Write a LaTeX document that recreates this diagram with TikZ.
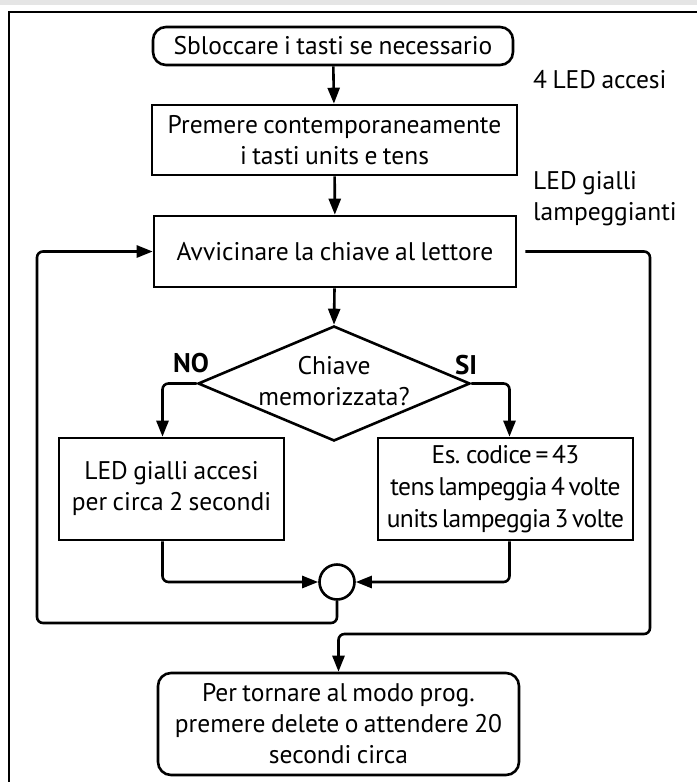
\documentclass[tikz,border=0pt]{standalone}
\usepackage{fontspec}
\setmainfont[WordSpace=0.8]{PT Sans}
\newfontfamily\tightfont[WordSpace=0.6,LetterSpace=-2.5]{PT Sans}
\usetikzlibrary{arrows.meta,shapes.geometric,calc}
\begin{document}
\begin{tikzpicture}[x=1pt,y=-1pt,
  font=\fontsize{25.5}{31}\selectfont,
  box/.style={draw, line width=2.6pt, inner sep=0pt, align=center},
  roundbox/.style={box, rounded corners=13pt},
  conn/.style={line width=2.6pt, rounded corners=6pt},
  arr/.style={conn, -{Triangle[length=16pt,width=12pt]}},
  note/.style={inner sep=0pt, anchor=west, align=left},
  tight/.style={font=\tightfont\fontsize{25.5}{32}\selectfont},
  branch/.style={inner sep=0pt, font=\fontsize{27}{31}\selectfont\bfseries}
]
\useasboundingbox (0,0) rectangle (697,782);
% page band and frame
\fill[black!10] (0,0) rectangle (697,5);
\draw[line width=2pt] (9,782) -- (9,12) -- (697,12);

% flow steps
\node[roundbox, minimum width=360pt, minimum height=38pt] (b1) at (333,46) {Sbloccare i tasti se necessario};
\node[box, minimum width=365pt, minimum height=70pt] (b2) at (334.5,140) {Premere contemporaneamente\\i tasti units e tens};
\node[box, minimum width=362pt, minimum height=71pt] (b3) at (335,251.5) {Avvicinare la chiave al lettore};
\node[draw, line width=2.6pt, diamond, inner sep=0pt, minimum width=272pt, minimum height=115pt] (d) at (334,383.5) {};
\node[inner sep=0pt, align=center] (dt) at (334,381.5) {Chiave\\memorizzata?};
\node[box, minimum width=225pt, minimum height=102pt] (lb) at (171.5,489) {LED gialli accesi\\per circa 2 secondi};
\node[box, tight, minimum width=255pt, minimum height=102pt] (rb) at (505.5,489) {Es. codice = 43\\tens lampeggia 4 volte\\units lampeggia 3 volte};
\node[draw, circle, line width=2.6pt, minimum size=35pt, inner sep=0pt] (c) at (337,582) {};
\node[roundbox, minimum width=361pt, minimum height=102pt] (bb) at (338.5,724) {Per tornare al modo prog.\\premere delete o attendere 20\\secondi circa};

% side notes
\node[note] (n1) at (533,80) {4 LED accesi};
\node[note] (n2) at (533,199) {LED gialli\\lampeggianti};

% branch labels
\node[branch] (no) at (191,363) {NO};
\node[branch] (si) at (466,365) {SI};

% helper corners
\coordinate (lp) at (37,623);
\coordinate (rp) at (650,634);

% connectors
\draw[arr] (b1) -- (b2);
\draw[arr] (b2) -- (b3);
\draw[arr] (b3) -- (d.north);
\draw[arr] (d.west) -| ([xshift=-9pt]lb.north);
\draw[arr] (d.east) -| ([xshift=4pt]rb.north);
\draw[arr] ([xshift=-9pt]lb.south) |- (c.west);
\draw[arr] ([xshift=4pt]rb.south) |- (c.east);
\draw[arr] (c.south) |- (lp) |- (b3.west);
\draw[arr] ([xshift=8pt]b3.east) -| (rp) -| (bb.north);
\end{tikzpicture}
\end{document}
